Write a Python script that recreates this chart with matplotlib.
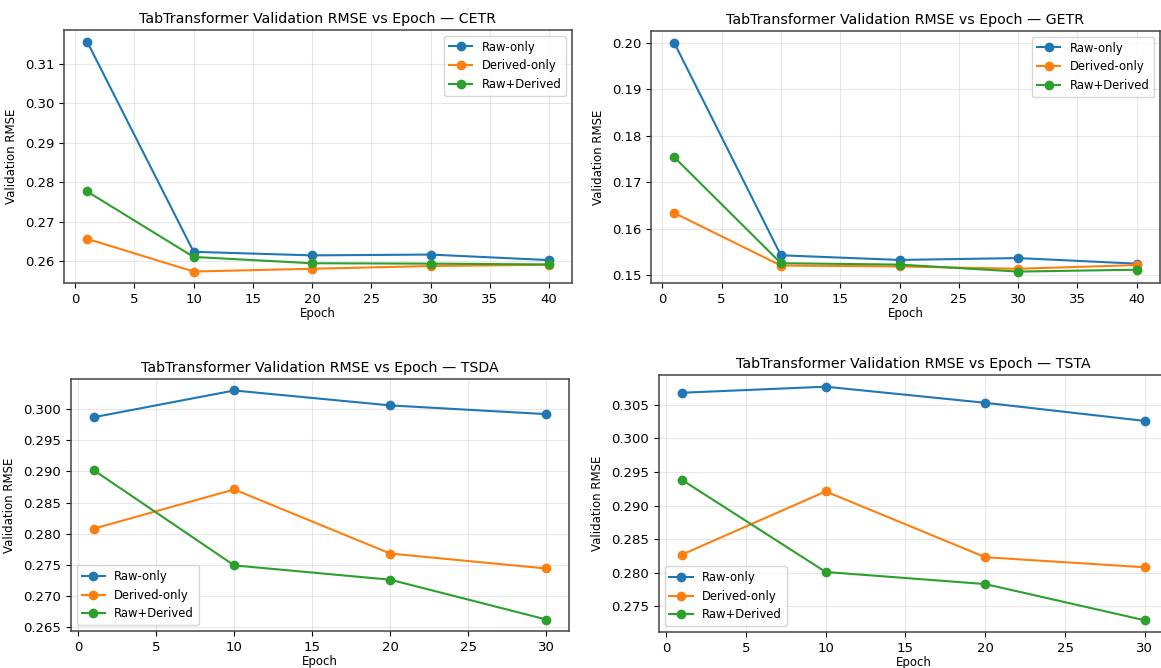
import matplotlib
matplotlib.use("Agg")
import matplotlib.pyplot as plt

# epochs per dataset
epochs_long = [1, 10, 20, 30, 40]
epochs_short = [1, 10, 20, 30]

# CETR
cetr_raw = [0.3157, 0.2624, 0.2615, 0.2617, 0.2603]
cetr_derived = [0.2657, 0.2574, 0.2581, 0.2588, 0.2591]
cetr_both = [0.2777, 0.2611, 0.2595, 0.2594, 0.2592]

# GETR
getr_raw = [0.2000, 0.1543, 0.1533, 0.1537, 0.1525]
getr_derived = [0.1634, 0.1521, 0.1519, 0.1514, 0.1522]
getr_both = [0.1754, 0.1526, 0.1523, 0.1508, 0.1512]

# TSDA
tsda_raw = [0.2987, 0.3030, 0.3006, 0.2992]
tsda_derived = [0.2808, 0.2871, 0.2768, 0.2744]
tsda_both = [0.2902, 0.2749, 0.2726, 0.2662]

# TSTA
tsta_raw = [0.3068, 0.3077, 0.3053, 0.3026]
tsta_derived = [0.2827, 0.2921, 0.2823, 0.2808]
tsta_both = [0.2938, 0.2801, 0.2783, 0.2729]

labels = ["Raw-only", "Derived-only", "Raw+Derived"]

panels = [
    ("CETR", epochs_long, [cetr_raw, cetr_derived, cetr_both], "upper right",
     [0.0551, 0.5763, 0.4376, 0.3787]),
    ("GETR", epochs_long, [getr_raw, getr_derived, getr_both], "upper right",
     [0.5607, 0.5763, 0.4384, 0.3772]),
    ("TSDA", epochs_short, [tsda_raw, tsda_derived, tsda_both], "lower left",
     [0.0612, 0.0554, 0.4289, 0.3772]),
    ("TSTA", epochs_short, [tsta_raw, tsta_derived, tsta_both], "lower left",
     [0.5676, 0.0539, 0.4384, 0.3847]),
]

plt.rcParams["axes.edgecolor"] = "#444444"
plt.rcParams["axes.linewidth"] = 1.1

fig = plt.figure(figsize=(11.61, 6.68), dpi=100)

for name, ep, series, loc, rect in panels:
    ax = fig.add_axes(rect)
    for vals, lab in zip(series, labels):
        ax.plot(ep, vals, marker="o", label=lab)
    ax.set_title(f"TabTransformer Validation RMSE vs Epoch — {name}", fontsize=10.2, pad=5)
    ax.set_xlabel("Epoch", fontsize=8.5, labelpad=1)
    ax.set_ylabel("Validation RMSE", fontsize=8.5, labelpad=5)
    ax.tick_params(labelsize=9.5)
    ax.grid(True, alpha=0.3)
    ax.legend(loc=loc, fontsize=8.4)

fig.savefig("out.png", dpi=100)
